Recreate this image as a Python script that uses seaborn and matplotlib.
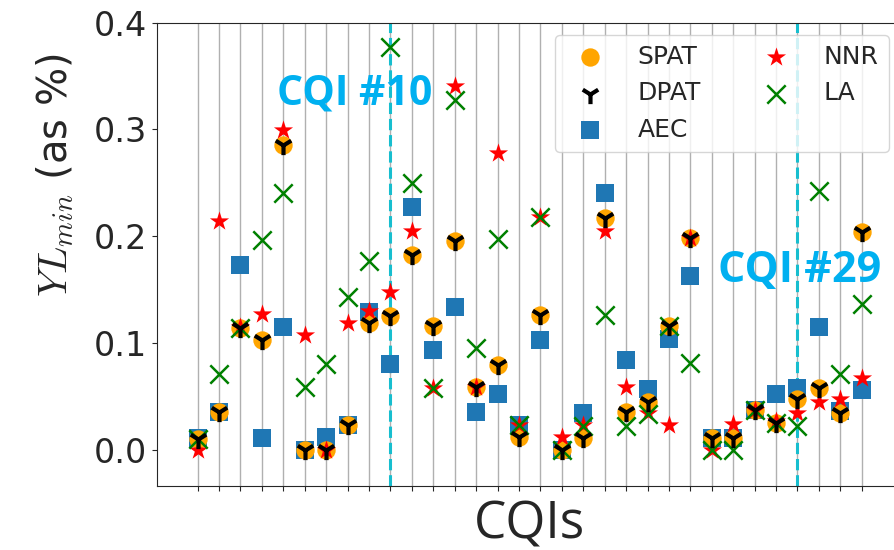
import numpy as np
import matplotlib
matplotlib.use("Agg")
import matplotlib.pyplot as plt
import seaborn as sns

# YL_min per CQI (as %)
cqi = list(range(1, 33))
spat = [0.010, 0.035, 0.114, 0.103, 0.285, 0.000, 0.000, 0.023, 0.119, 0.125,
        0.182, 0.116, 0.195, 0.059, 0.079, 0.012, 0.126, 0.000, 0.011, 0.217,
        0.035, 0.045, 0.116, 0.198, 0.011, 0.011, 0.037, 0.025, 0.047, 0.058,
        0.034, 0.204]
dpat = [0.010, 0.035, 0.114, 0.103, 0.285, 0.000, 0.000, 0.023, 0.119, 0.125,
        0.182, 0.116, 0.195, 0.059, 0.079, 0.012, 0.126, 0.000, 0.011, 0.217,
        0.035, 0.045, 0.116, 0.198, 0.011, 0.011, 0.037, 0.025, 0.047, 0.058,
        0.034, 0.204]
aec = [0.011, 0.035, 0.173, 0.011, 0.115, 0.000, 0.012, 0.023, 0.129, 0.080,
       0.227, 0.093, 0.134, 0.035, 0.052, 0.023, 0.103, 0.000, 0.034, 0.240,
       0.084, 0.057, 0.104, 0.163, 0.011, 0.011, 0.037, 0.052, 0.058, 0.115,
       0.036, 0.056]
nnr = [0.000, 0.214, 0.115, 0.127, 0.299, 0.107, 0.000, 0.119, 0.130, 0.148,
       0.205, 0.058, 0.341, 0.059, 0.278, 0.023, 0.218, 0.012, 0.023, 0.205,
       0.059, 0.034, 0.023, 0.198, 0.000, 0.024, 0.037, 0.027, 0.034, 0.045,
       0.047, 0.067]
la = [0.010, 0.071, 0.114, 0.196, 0.240, 0.059, 0.080, 0.143, 0.177, 0.377,
      0.250, 0.058, 0.327, 0.095, 0.197, 0.023, 0.218, 0.000, 0.022, 0.126,
      0.022, 0.033, 0.116, 0.081, 0.000, 0.000, 0.037, 0.025, 0.022, 0.242,
      0.071, 0.136]
marked_cqis = [10, 29]

sns.set_style("ticks")
plt.rcParams["mathtext.fontset"] = "cm"
fig = plt.figure(figsize=(8.95, 5.5), dpi=100)
ax = fig.add_axes([157 / 895, 64 / 550, 744 / 895, 463.5 / 550])

sz = 175
sns.scatterplot(x=cqi, y=spat, marker="o", color="orange", s=sz, linewidth=0,
                label="SPAT", zorder=3, ax=ax)
sns.scatterplot(x=cqi, y=dpat, marker="1", color="black", s=sz * 1.1, linewidth=3,
                label="DPAT", zorder=6, ax=ax)
sns.scatterplot(x=cqi, y=aec, marker="s", color="#1f77b4", s=sz, linewidth=0,
                label="AEC", zorder=2, ax=ax)
sns.scatterplot(x=cqi, y=nnr, marker="*", color="red", s=sz * 1.2, linewidth=0,
                label="NNR", zorder=4, ax=ax)
sns.scatterplot(x=cqi, y=la, marker="x", color="green", s=sz, linewidth=1.8,
                label="LA", zorder=5, ax=ax)

for c in marked_cqis:
    ax.axvline(c, color="#17becf", linestyle="--", linewidth=2.2, zorder=1)

ax.text(8.35, 0.333, "CQI #10", color="#00b0f0", fontsize=29.5, fontweight="bold",
        family="Open Sans", ha="center", va="center")
ax.text(29.1, 0.168, "CQI #29", color="#00b0f0", fontsize=31, fontweight="bold",
        family="Open Sans", ha="center", va="center")

ax.set_xticks(cqi)
ax.set_xticklabels([])
ax.grid(axis="x", color="#b0b0b0", linewidth=1)
ax.set_axisbelow(True)
ax.set_xlim(-0.89, 33.83)
ax.set_ylim(-0.034, 0.4)
ax.set_yticks([0.0, 0.1, 0.2, 0.3, 0.4])
ax.tick_params(axis="y", labelsize=24)
ax.set_xlabel("CQIs", fontsize=37, family="Open Sans")
ax.xaxis.label.set_va("top")
ax.xaxis.set_label_coords(0.5, -0.03)
ax.set_ylabel(r"$YL_{min}$ (as %)", fontsize=29)
ax.yaxis.set_label_coords(-0.109, 0.671)

ax.legend(loc="upper right", ncol=2, fontsize=18, framealpha=0.8,
          handletextpad=0.9, columnspacing=2.0)

fig.savefig("out.png", dpi=100)
